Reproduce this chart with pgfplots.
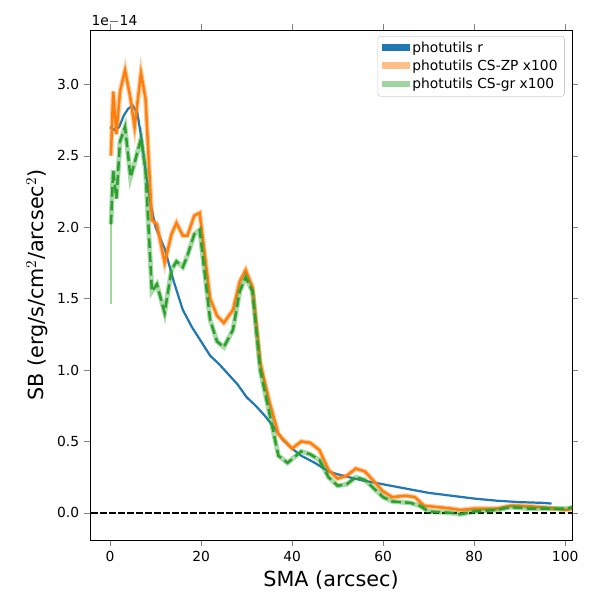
\documentclass[border=0pt]{standalone}
\usepackage{pgfplots}
\pgfplotsset{compat=1.18}
\usepackage{fontspec}
\setmainfont{DejaVu Sans}
\definecolor{mblue}{HTML}{1F77B4}
\definecolor{morange}{HTML}{FF7F0E}
\definecolor{mgreen}{HTML}{2CA02C}
\begin{document}
\begin{tikzpicture}
\useasboundingbox (-0.9in,-0.6in) rectangle (5.1in,5.4in);
\begin{axis}[at={(0,0)},anchor=south west,scale only axis,width=4.82in,height=5.1in,
xmin=-4.4,xmax=101.5,ymin=-0.19,ymax=3.38,
xtick={0,20,40,60,80,100},ytick={0,0.5,1,1.5,2,2.5,3},
yticklabel style={/pgf/number format/fixed,/pgf/number format/fixed zerofill,/pgf/number format/precision=1},
/pgf/number format/assume math mode=true,
tick label style={font=\fontsize{10}{12}\selectfont},
xlabel={SMA (arcsec)},ylabel={SB (erg/s/cm$^2$/arcsec$^2$)},
label style={font=\fontsize{15}{18}\selectfont},
tick align=outside,
legend cell align=left,
legend style={at={(0.985,0.988)},anchor=north east,font=\fontsize{10}{12}\selectfont,draw=black!20,rounded corners=2pt},
legend image code/.code={\fill[#1,sharp corners,draw=none] (0cm,-0.07cm) rectangle (0.7cm,0.1cm);},
]
\addlegendimage{fill=mblue}
\addlegendentry{photutils r}
\addlegendimage{fill=morange!50}
\addlegendentry{photutils CS-ZP x100}
\addlegendimage{fill=mgreen!45}
\addlegendentry{photutils CS-gr x100}
\draw[black,line width=1.2pt,dash pattern=on 4.5pt off 2pt] (axis cs:-10,0) -- (axis cs:110,0);
\addplot[mblue,line width=1.6pt,forget plot] coordinates {(0,2.7)(1,2.68)(2,2.7)(3,2.78)(4,2.83)(5,2.85)(6,2.8)(7,2.6)(8,2.35)(9,2.15)(10,2.0)(12,1.85)(14,1.62)(16,1.42)(18,1.3)(20,1.2)(22,1.1)(24,1.04)(26,0.97)(28,0.9)(30,0.81)(32,0.75)(34,0.68)(36,0.6)(38,0.51)(40,0.45)(42,0.4)(45,0.35)(48,0.29)(50,0.27)(55,0.23)(60,0.2)(65,0.17)(70,0.14)(75,0.12)(80,0.1)(85,0.085)(90,0.075)(95,0.07)(97,0.065)};
\addplot[morange,line width=3.5pt,opacity=0.4,forget plot] coordinates {(0.2,2.5)(0.7,2.95)(1.4,2.65)(2.2,2.95)(3.3,3.1)(4.5,2.9)(5.4,2.7)(6.8,3.08)(7.8,2.9)(9.2,2.05)(10.3,2.02)(12,1.75)(13.5,1.95)(14.6,2.03)(16,1.94)(17,1.94)(18.5,2.08)(19.7,2.1)(22,1.5)(23.5,1.38)(25,1.33)(27,1.42)(28.5,1.62)(29.8,1.7)(31.3,1.58)(33,1.05)(35,0.78)(37,0.55)(40,0.45)(42,0.5)(44,0.49)(46,0.44)(48,0.3)(50,0.24)(52,0.26)(54,0.31)(56,0.29)(58,0.22)(60,0.15)(62,0.11)(65,0.12)(67,0.11)(69,0.05)(72,0.04)(75,0.03)(77,0.02)(80,0.03)(85,0.03)(88,0.05)(90,0.05)(95,0.04)(100,0.02)(102,0.03)};
\addplot[morange,line width=1.8pt,forget plot] coordinates {(0.2,2.5)(0.7,2.95)(1.4,2.65)(2.2,2.95)(3.3,3.1)(4.5,2.9)(5.4,2.7)(6.8,3.08)(7.8,2.9)(9.2,2.05)(10.3,2.02)(12,1.75)(13.5,1.95)(14.6,2.03)(16,1.94)(17,1.94)(18.5,2.08)(19.7,2.1)(22,1.5)(23.5,1.38)(25,1.33)(27,1.42)(28.5,1.62)(29.8,1.7)(31.3,1.58)(33,1.05)(35,0.78)(37,0.55)(40,0.45)(42,0.5)(44,0.49)(46,0.44)(48,0.3)(50,0.24)(52,0.26)(54,0.31)(56,0.29)(58,0.22)(60,0.15)(62,0.11)(65,0.12)(67,0.11)(69,0.05)(72,0.04)(75,0.03)(77,0.02)(80,0.03)(85,0.03)(88,0.05)(90,0.05)(95,0.04)(100,0.02)(102,0.03)};
\addplot[mgreen,line width=3.5pt,opacity=0.4,forget plot] coordinates {(0.2,2.02)(0.7,2.4)(1.4,2.2)(2.2,2.6)(3.3,2.7)(4.5,2.35)(5.4,2.45)(6.8,2.62)(7.8,2.4)(9.2,1.55)(10.3,1.6)(12,1.4)(13.5,1.7)(14.6,1.76)(16,1.72)(17,1.8)(18.5,1.95)(19.7,1.98)(22,1.35)(23.5,1.2)(25,1.16)(27,1.28)(28.5,1.55)(29.8,1.65)(31.3,1.55)(33,1.0)(35,0.7)(37,0.4)(39,0.35)(42,0.43)(44,0.41)(46,0.37)(48,0.25)(50,0.19)(52,0.2)(54,0.25)(56,0.23)(58,0.17)(60,0.11)(62,0.08)(66,0.07)(68,0.05)(70,0.01)(75,0.0)(77,-0.01)(80,0.01)(85,0.02)(88,0.04)(92,0.03)(96,0.03)(100,0.03)(102,0.04)};
\addplot[mgreen!45,line width=1pt,forget plot] coordinates {(0.2,1.46)(0.2,2.3)};
\addplot[mgreen,line width=1.8pt,dash pattern=on 7pt off 3pt,forget plot] coordinates {(0.2,2.02)(0.7,2.4)(1.4,2.2)(2.2,2.6)(3.3,2.7)(4.5,2.35)(5.4,2.45)(6.8,2.62)(7.8,2.4)(9.2,1.55)(10.3,1.6)(12,1.4)(13.5,1.7)(14.6,1.76)(16,1.72)(17,1.8)(18.5,1.95)(19.7,1.98)(22,1.35)(23.5,1.2)(25,1.16)(27,1.28)(28.5,1.55)(29.8,1.65)(31.3,1.55)(33,1.0)(35,0.7)(37,0.4)(39,0.35)(42,0.43)(44,0.41)(46,0.37)(48,0.25)(50,0.19)(52,0.2)(54,0.25)(56,0.23)(58,0.17)(60,0.11)(62,0.08)(66,0.07)(68,0.05)(70,0.01)(75,0.0)(77,-0.01)(80,0.01)(85,0.02)(88,0.04)(92,0.03)(96,0.03)(100,0.03)(102,0.04)};
\end{axis}
\node[anchor=south west,font=\fontsize{10}{12}\selectfont,inner sep=1pt] at (0,5.12in) {1e$-$14};
\end{tikzpicture}
\end{document}
